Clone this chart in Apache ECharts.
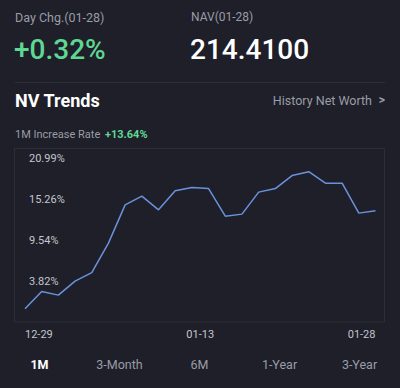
<!DOCTYPE html>
<html><head><meta charset="utf-8">
<script src="https://cdn.jsdelivr.net/npm/echarts@6/dist/echarts.min.js"></script>
<style>html,body{margin:0;padding:0;background:#1e1f29;}#c{width:400px;height:388px;}</style>
</head><body><div id="c"></div>
<script>
const dates = ['12-29','12-30','12-31','01-03','01-04','01-05','01-06','01-07','01-10','01-11','01-12','01-13','01-14','01-18','01-19','01-20','01-21','01-24','01-25','01-26','01-27','01-28'];
const increaseRate = [0.00,2.41,1.91,3.86,5.05,9.14,14.47,15.69,13.78,16.42,16.88,16.74,12.90,13.18,16.24,16.74,18.55,19.08,17.49,17.49,13.32,13.64];
const xTickLabels = ['12-29','01-13','01-28'];
const yTickLabels = [3.82, 9.54, 15.26, 20.99];
const tabs = ['1M','3-Month','6M','1-Year','3-Year'];

const font = 'Roboto, "Noto Sans", sans-serif';
const grey = '#9a9ca6';
const green = '#5ed793';
const xTickPos = [0, (dates.length - 1) / 2, dates.length - 1];

const chart = echarts.init(document.getElementById('c'), null, {renderer: 'svg'});
const graphics = [
  {type:'rect', shape:{x:14.5,y:148.5,width:370,height:173.5}, style:{fill:'#1e1f29', stroke:'#2c2e39', lineWidth:1}, z:-1},
  {type:'line', shape:{x1:15,y1:82.5,x2:385,y2:82.5}, style:{stroke:'#2c2e39', lineWidth:1}},
  {type:'text', x:15, y:17, style:{text:'Day Chg.(01-28)', fill:grey, font:'12.5px '+font, textVerticalAlign:'middle'}},
  {type:'text', x:191, y:17, style:{text:'NAV(01-28)', fill:grey, font:'12px '+font, textVerticalAlign:'middle'}},
  {type:'text', x:14, y:49, style:{text:'+0.32%', fill:green, font:'500 28px '+font, textVerticalAlign:'middle'}},
  {type:'text', x:190, y:49, style:{text:'214.4100', fill:'#ffffff', font:'500 28px '+font, textVerticalAlign:'middle'}},
  {type:'text', x:15, y:100, style:{text:'NV Trends', fill:'#ffffff', font:'bold 18px '+font, textVerticalAlign:'middle'}},
  {type:'text', x:372, y:100, style:{text:'History Net Worth', fill:grey, font:'12.5px '+font, textAlign:'right', textVerticalAlign:'middle'}},
  {type:'text', x:385, y:100, style:{text:'>', fill:grey, font:'bold 12px '+font, textAlign:'right', textVerticalAlign:'middle'}},
  {type:'text', x:15, y:134, style:{text:'1M Increase Rate', fill:grey, font:'11px '+font, textVerticalAlign:'middle'}},
  {type:'text', x:105, y:134, style:{text:'+' + increaseRate[increaseRate.length-1].toFixed(2) + '%', fill:green, font:'bold 11px '+font, textVerticalAlign:'middle'}}
];
tabs.forEach((t, i) => {
  graphics.push({type:'text', x:39.5 + i*80, y:364, style:{text:t, fill: i===0 ? '#ffffff' : grey, font:(i===0?'bold ':'')+'12.5px '+font, textAlign:'center', textVerticalAlign:'middle'}});
});

chart.setOption({
  backgroundColor:'#1e1f29',
  animation:false,
  graphic: graphics,
  grid:{left:25, right:24.5, top:158, bottom:65.5},
  xAxis:{
    type:'value', min:0, max:dates.length-1,
    axisLine:{show:false}, axisTick:{show:false}, splitLine:{show:false},
    axisLabel:{
      customValues: xTickPos,
      formatter: (v) => xTickLabels[xTickPos.indexOf(v)],
      color:'#c4c6cd', fontSize:11, fontFamily:font, margin:6,
      alignMinLabel:'left', alignMaxLabel:'right'
    }
  },
  yAxis:{
    type:'value', min:-1.90, max:20.99,
    axisLine:{show:false}, axisTick:{show:false}, splitLine:{show:false},
    axisLabel:{
      inside:true, customValues: yTickLabels, margin:4,
      formatter:(v) => v.toFixed(2) + '%',
      color:'#c4c6cd', fontSize:11, fontFamily:font, verticalAlign:'middle'
    }
  },
  series:[{
    type:'line',
    data: increaseRate.map((v, i) => [i, v]),
    symbol:'none',
    lineStyle:{color:'#6a92dc', width:1.5},
    z:3
  }]
});
</script></body></html>
